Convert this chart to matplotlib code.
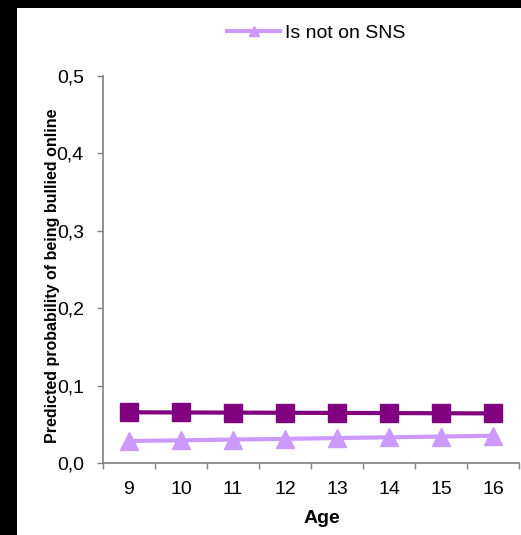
import matplotlib
matplotlib.use("Agg")
import matplotlib.pyplot as plt
from matplotlib.lines import Line2D
from matplotlib.patches import Rectangle
from matplotlib.ticker import FuncFormatter

plt.rcParams['font.family'] = ['Liberation Sans', 'DejaVu Sans']

# data
ages = [9, 10, 11, 12, 13, 14, 15, 16]
on_sns = [0.0655, 0.0653, 0.0651, 0.0649, 0.0647, 0.0645, 0.0643, 0.0641]
not_on_sns = [0.0284, 0.0293, 0.0303, 0.0312, 0.0322, 0.0332, 0.0342, 0.0352]
y_ticks = [0.0, 0.1, 0.2, 0.3, 0.4, 0.5]
legend_label = "Is not on SNS"

dark = "#800080"
light = "#CC99FF"
grey = "#808080"

W, H = 521, 535
fig = plt.figure(figsize=(W / 100, H / 100), dpi=100)
fig.patch.set_facecolor("white")
# black strips on the left and top edges
fig.patches.append(Rectangle((0, 0), 17 / W, 1, transform=fig.transFigure,
                             facecolor="black", edgecolor="none", zorder=-5))
fig.patches.append(Rectangle((0, 1 - 8 / H), 1, 8 / H, transform=fig.transFigure,
                             facecolor="black", edgecolor="none", zorder=-5))

ax = fig.add_axes([103 / W, 1 - 463 / H, 416 / W, 387 / H])
ax.set_facecolor("none")

ax.plot(ages, on_sns, color=dark, lw=3, marker="s", markersize=12.5,
        markeredgecolor=dark, clip_on=False)
ax.plot(ages, not_on_sns, color=light, lw=3, marker="^", markersize=13,
        markeredgecolor=light, clip_on=False)

ax.set_xlim(8.5, 16.5)
ax.set_ylim(0, 0.5)
ax.set_yticks(y_ticks)
ax.yaxis.set_major_formatter(FuncFormatter(lambda v, p: f"{v:.1f}".replace(".", ",")))

# category ticks sit between the ages
ax.set_xticks([a - 0.5 for a in ages] + [ages[-1] + 0.5])
ax.set_xticklabels([])
ax.set_xticks(ages, minor=True)
ax.set_xticklabels([str(a) for a in ages], minor=True, fontsize=14)
ax.tick_params(axis="x", which="major", length=4, width=1, color=grey, direction="out")
ax.tick_params(axis="x", which="minor", length=0, pad=13)
ax.tick_params(axis="y", length=4.3, width=1, color=grey, labelsize=14, pad=9.5)

for s in ["top", "right"]:
    ax.spines[s].set_visible(False)
for s in ["left", "bottom"]:
    ax.spines[s].set_color(grey)
    ax.spines[s].set_linewidth(1.2)

ax.set_xlabel("Age", fontsize=14, fontweight="bold")
ax.xaxis.set_label_coords((322 - 103) / 416, (463 - 510) / 387)
ax.set_ylabel("Predicted probability of being bullied online", fontsize=11.5,
              fontweight="bold")
ax.yaxis.set_label_coords((60 - 103) / 416, (463 - 276) / 387)

handle = Line2D([], [], color=light, lw=3, marker="^", markersize=7)
fig.legend([handle], [legend_label], loc="center left",
           bbox_to_anchor=(227 / W, 1 - 33 / H), frameon=False, fontsize=14,
           borderpad=0, borderaxespad=0, handlelength=2.75, handletextpad=0.25)

fig.savefig("out.png", dpi=100)
